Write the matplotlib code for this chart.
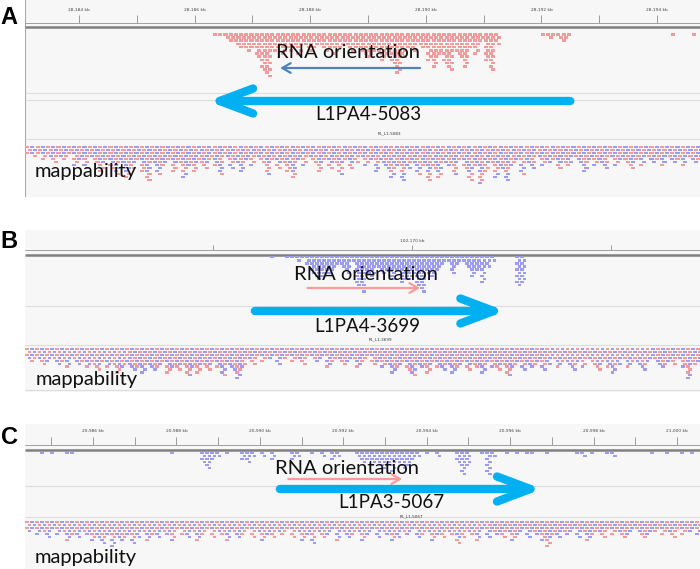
import matplotlib
matplotlib.use('Agg')
import matplotlib.pyplot as plt
from matplotlib.patches import FancyArrowPatch

W, H = 700, 569

# ---- panel A : chr region 28,183-28,195 kb ----
a_ticks = [28184, 28186, 28188, 28190, 28192, 28194]
a_tick_labels = ['28,184 kb', '28,186 kb', '28,188 kb', '28,190 kb', '28,192 kb', '28,194 kb']
a_rna_start, a_step = 28186.32, 0.09
a_rna_depth = [1, 1, 2, 3, 4, 5, 6, 5, 8, 12, 14, 6, 5, 7, 6, 5, 7, 4, 6, 5,
               4, 6, 5, 7, 5, 4, 6, 5, 6, 8, 7, 6, 9, 7, 10, 13, 8, 5, 6, 4,
               5, 9, 11, 7, 10, 12, 6, 8, 11, 5, 7, 3, 9, 12, 4, 0, 0, 0, 0, 0,
               0, 0, 0, 1, 2, 1, 2, 3, 1, 0, 0, 0, 0, 0, 0, 0, 0, 0, 0, 0,
               0, 0, 0, 0, 0, 0, 0, 0, 1, 0, 0, 0, 1]
a_map_start = 28183.07
a_map_depth = [3, 4, 3, 5, 4, 6, 4, 5, 3, 7, 5, 8, 4, 6, 9, 5, 8, 10, 6, 11,
               8, 5, 9, 12, 6, 10, 7, 5, 9, 6, 11, 7, 9, 6, 8, 5, 7, 10, 4, 8,
               6, 9, 5, 7, 4, 6, 10, 5, 8, 6, 9, 11, 5, 7, 4, 6, 9, 5, 8, 6,
               10, 5, 8, 6, 4, 7, 5, 9, 6, 8, 11, 7, 12, 8, 6, 10, 7, 12, 8, 11,
               6, 7, 10, 5, 8, 12, 7, 13, 9, 6, 11, 8, 12, 7, 5, 10, 6, 8, 4, 7,
               6, 5, 8, 6, 7, 4, 6, 9, 5, 7, 6, 8, 4, 7, 5, 6, 8, 5, 7, 4,
               6, 5, 7, 4, 6, 5, 7, 4, 6, 5]
a_l1 = (28192.50, 28186.23)      # tail, tip (minus strand)
a_rna = (28189.90, 28187.48)
a_rna_x, a_name_x = 28188.65, 28189.00
a_name, a_id = 'L1PA4-5083', 'PL_L1-5083'

# ---- panel B : region around 102,170 kb ----
b_ticks = [102168, 102170, 102172]
b_tick_labels = ['', '102,170 kb', '']
b_rna_start, b_step = 102168.52, 0.0503
b_rna_depth = [0, 1, 0, 0, 1, 1, 2, 1, 3, 6, 8, 7, 6, 5, 3, 4, 6, 2, 10, 12,
               6, 7, 4, 6, 5, 8, 5, 9, 8, 7, 10, 12, 6, 7, 5, 3, 2, 6, 3, 2,
               4, 7, 5, 9, 4, 2, 0, 0, 0, 0, 10, 9]
b_map_start = 102166.11
b_map_depth = [4, 5, 4, 6, 5, 4, 6, 5, 7, 4, 6, 5, 7, 6, 8, 5, 7, 6, 9, 7,
               6, 8, 7, 9, 6, 8, 7, 5, 9, 7, 8, 6, 10, 7, 9, 6, 8, 5, 7, 10,
               6, 8, 11, 7, 4, 6, 3, 5, 4, 3, 6, 4, 3, 5, 4, 6, 3, 4, 5, 3,
               7, 5, 4, 6, 5, 4, 7, 5, 3, 6, 5, 7, 6, 9, 7, 5, 8, 10, 6, 7,
               9, 5, 7, 8, 6, 9, 7, 5, 8, 6, 7, 9, 5, 7, 8, 6, 10, 7, 5, 8,
               6, 7, 5, 8, 6, 4, 7, 5, 6, 8, 5, 7, 4, 6, 8, 5, 7, 9, 6, 4,
               7, 5, 6, 8, 5, 4, 6, 7, 5, 6, 4, 7, 11, 6, 5]
b_l1 = (102168.42, 102170.94)
b_rna = (102168.95, 102170.08)
b_rna_x, b_name_x = 102169.54, 102169.55
b_name, b_id = 'L1PA4-3699', 'PL_L1-3699'

# ---- panel C : chr region 20,984-21,001 kb ----
c_ticks = [20986, 20988, 20990, 20992, 20994, 20996, 20998, 21000]
c_tick_labels = ['20,986 kb', '20,988 kb', '20,990 kb', '20,992 kb',
                 '20,994 kb', '20,996 kb', '20,998 kb', '21,000 kb']
c_rna_start, c_step = 20984.37, 0.1199
c_rna_depth = [0, 0, 0, 1, 0, 1, 0, 0, 1, 1, 0, 0, 0, 0, 0, 0, 0, 0, 0, 0,
               0, 0, 0, 0, 0, 0, 0, 0, 0, 1, 0, 0, 0, 0, 0, 4, 6, 3, 2, 0,
               1, 0, 0, 3, 4, 2, 0, 2, 0, 3, 0, 0, 0, 3, 2, 0, 0, 1, 0, 2,
               0, 3, 2, 0, 0, 0, 2, 4, 3, 5, 4, 6, 5, 7, 4, 6, 5, 3, 2, 0,
               1, 0, 2, 0, 0, 0, 4, 8, 5, 0, 0, 1, 8, 2, 0, 0, 1, 0, 1, 0,
               1, 1, 0, 0, 1, 0, 0, 0, 0, 0, 1, 2, 0, 1, 0, 0, 1, 2, 0, 0,
               0, 0, 0, 0, 0, 1, 0, 0, 1, 0, 0, 1, 0, 1, 0]
c_map_start = 20984.37
c_map_depth = [4, 3, 5, 4, 6, 3, 5, 4, 7, 5, 6, 4, 5, 7, 6, 8, 5, 9, 6, 7,
               5, 8, 6, 4, 7, 5, 6, 4, 5, 7, 3, 5, 6, 4, 7, 5, 3, 6, 4, 5,
               7, 4, 6, 5, 3, 6, 4, 7, 5, 6, 4, 5, 3, 6, 4, 7, 5, 8, 4, 6,
               5, 3, 7, 4, 6, 5, 4, 7, 5, 3, 6, 4, 5, 7, 6, 4, 5, 3, 6, 5,
               4, 7, 5, 6, 4, 5, 8, 6, 4, 5, 7, 3, 6, 4, 5, 6, 4, 7, 5, 3,
               6, 4, 5, 7, 9, 5, 6, 4, 5, 3, 6, 4, 7, 5, 4, 6, 3, 5, 4, 6,
               5, 3, 4, 6, 5, 4, 3, 5, 4, 6, 3, 5, 4, 3, 5]
c_l1 = (20990.48, 20996.77)
c_rna = (20990.68, 20993.41)
c_rna_x, c_name_x = 20992.09, 20993.15
c_name, c_id = 'L1PA3-5067', 'PL_L1-5067'

PINK = '#f19c9c'
BLUE = '#9c9cf0'
CYAN = '#00b0f0'
FONT = 'Lato'

fig = plt.figure(figsize=(W / 100, H / 100), dpi=100)


def panel_axes(top, bottom, x0, x1):
    ax = fig.add_axes([25 / W, 1 - bottom / H, 675 / W, (bottom - top) / H])
    ax.set_xlim(x0, x1)
    ax.set_ylim(bottom, top)
    ax.axis('off')
    ax.axhspan(top, bottom, color='#f7f7f7', zorder=0)
    return ax


def draw_ruler(ax, ticks, labels, y_lab, y_tick, y_line, minor=True):
    x0, x1 = ax.get_xlim()
    pos = list(ticks)
    if minor:
        half = (ticks[1] - ticks[0]) / 2
        pos += [t - half for t in ticks] + [ticks[-1] + half]
    ax.vlines([p for p in pos if x0 < p < x1], y_tick, y_line, color='#777777', lw=0.5)
    for t, lab in zip(ticks, labels):
        ax.text(t, y_lab, lab, fontsize=3.2, ha='center', va='center', color='#444444')
    ax.hlines(y_line, x0, x1, color='#a0a0a0', lw=0.7)
    ax.hlines(y_line + 4.5, x0, x1, color='#808080', lw=1.8)


def draw_reads(ax, start, step, depths, y0, pitch, colors):
    # reads packed in rows; odd rows shifted half a read for the IGV brick look
    for r in range(max(depths)):
        spans = {c: [] for c in colors}
        for i, d in enumerate(depths):
            if d > r:
                c = colors[(i + r // 3) % len(colors)]
                spans[c].append((start + (i + 0.5 * (r % 2)) * step, 0.78 * step))
        for c, s in spans.items():
            if s:
                ax.broken_barh(s, (y0 + r * pitch, 0.8 * pitch), facecolors=c, lw=0, zorder=2)


def arrow(ax, ends, y, color, lw, hl, hw):
    p = FancyArrowPatch((ends[0], y), (ends[1], y),
                        arrowstyle='->,head_length=%g,head_width=%g' % (hl, hw),
                        mutation_scale=1, lw=lw, color=color, capstyle='round',
                        joinstyle='round', shrinkA=0, shrinkB=0, zorder=4)
    ax.add_patch(p)


def labels(ax, rna_x, y_rna, name_x, y_name, l1, y_id, name, pid, y_map):
    x0, x1 = ax.get_xlim()
    ax.text(rna_x, y_rna, 'RNA orientation', fontsize=14.5, family=FONT,
            ha='center', va='center', color='#111111', zorder=5)
    ax.text(name_x, y_name, name, fontsize=13.5, family=FONT,
            ha='center', va='center', color='#111111', zorder=5)
    ax.text((l1[0] + l1[1]) / 2, y_id, pid, fontsize=3, ha='center', va='center',
            color='#333333')
    ax.text(x0 + (x1 - x0) * 0.015, y_map, 'mappability', fontsize=14.5, family=FONT,
            ha='left', va='center', color='#111111', zorder=5)


# panel A
axA = panel_axes(0, 197, 28183.066, 28194.744)
axA.axvline(28183.07, color='#aaaaaa', lw=0.8)
draw_ruler(axA, a_ticks, a_tick_labels, 10, 15, 22.5)
draw_reads(axA, a_rna_start, a_step, a_rna_depth, 33, 3.2, [PINK])
axA.hlines([93, 100, 139], *axA.get_xlim(), color='#dddddd', lw=0.8)
draw_reads(axA, a_map_start, a_step, a_map_depth, 146, 3.0, [PINK, BLUE])
arrow(axA, a_rna, 68, '#4f81bd', 1.6, 6, 3.5)
arrow(axA, a_l1, 101, CYAN, 6, 24, 9)
labels(axA, a_rna_x, 53, a_name_x, 115, a_l1, 133, a_name, a_id, 172)

# panel B
axB = panel_axes(230, 392, 102166.11, 102172.894)
draw_ruler(axB, b_ticks, b_tick_labels, 241, 245, 250, minor=False)
draw_reads(axB, b_rna_start, b_step, b_rna_depth, 256, 3.1, [BLUE])
axB.hlines([306, 345, 390], *axB.get_xlim(), color='#dddddd', lw=0.8)
draw_reads(axB, b_map_start, b_step, b_map_depth, 348, 2.9, [PINK, BLUE])
arrow(axB, b_rna, 288, '#ff9a9a', 1.6, 6, 3.5)
arrow(axB, b_l1, 311, CYAN, 6, 24, 9)
labels(axB, b_rna_x, 275, b_name_x, 326, b_l1, 339, b_name, b_id, 379)

# panel C
axC = panel_axes(424, 569, 20984.37, 21000.553)
draw_ruler(axC, c_ticks, c_tick_labels, 431, 437, 445)
draw_reads(axC, c_rna_start, c_step, c_rna_depth, 452, 3.0, [BLUE])
axC.hlines([486, 517], *axC.get_xlim(), color='#dddddd', lw=0.8)
draw_reads(axC, c_map_start, c_step, c_map_depth, 521, 3.0, [PINK, BLUE])
arrow(axC, c_rna, 479, '#ff9a9a', 1.6, 6, 3.5)
arrow(axC, c_l1, 489, CYAN, 6, 24, 9)
labels(axC, c_rna_x, 468, c_name_x, 503, c_l1, 516, c_name, c_id, 558)

for letter, y in zip('ABC', [17, 242, 437]):
    fig.text(9 / W, 1 - y / H, letter, fontsize=17, fontweight='bold',
             family='Liberation Sans', ha='center', va='center')

fig.savefig('out.png', dpi=100, facecolor='white')
